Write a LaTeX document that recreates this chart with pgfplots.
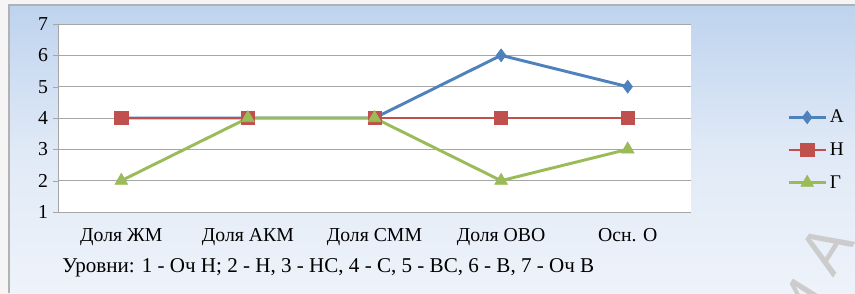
\documentclass[border=0pt]{standalone}
\usepackage{pgfplots}
\pgfplotsset{compat=1.18}
\usepackage{fontspec}
\setmainfont{Liberation Serif}
\setsansfont{Liberation Sans}
\definecolor{bgtop}{HTML}{BDD2EE}
\definecolor{bgbot}{HTML}{EEF3FA}
\definecolor{serA}{HTML}{4F81BD}
\definecolor{serH}{HTML}{C0504D}
\definecolor{serG}{HTML}{9BBB59}
\begin{document}
\begin{tikzpicture}[x=0.75pt,y=0.75pt]
\begin{scope}
\clip (0,0) rectangle (855,293);
\shade[top color=bgtop, bottom color=bgbot, middle color=bgbot!70!bgtop] (0,0) rectangle (855,293);
\fill[white!92!gray] (0,288) rectangle (855,293);
\fill[white!92!gray] (0,0) rectangle (9,293);
\draw[gray!60, line width=0.8pt] (9,0) -- (9,288) -- (855,288);
\node[rotate=58, text=gray!40, font=\fontsize{48}{48}\selectfont\sffamily, anchor=center] at (812,22) {и А};
\end{scope}
\begin{axis}[
  at={(43.5pt,60.75pt)}, anchor=south west,
  width=474.75pt, height=141pt, scale only axis,
  xmin=-0.5, xmax=4.5, ymin=1, ymax=7,
  xtick={0,1,2,3,4},
  xticklabels={Доля ЖМ, Доля АКМ, Доля СММ, Доля ОВО, Осн. О},
  ytick={1,2,3,4,5,6,7},
  ymajorgrids, grid style={gray!70, line width=0.6pt},
  axis x line*=bottom, axis y line*=left,
  axis line style={gray!70, line width=0.6pt},
  x axis line style={-}, y axis line style={-},
  major x tick style={draw=none},
  major y tick style={gray!70}, tick align=outside, major tick length=4pt,
  axis background/.style={fill=white},
  tick label style={font=\fontsize{14.8}{17}\selectfont},
  /pgf/number format/assume math mode=true,
  xticklabel style={yshift=-5pt},
  xlabel={Уровни: 1 - Оч Н; 2 - Н, 3 - НС, 4 - С, 5 - ВС, 6 - В, 7 - Оч В},
  xlabel style={at={(axis description cs:0.427,-0.298)}, anchor=center, font=\fontsize{15.8}{18}\selectfont},
  legend style={at={(1.145,0.33)}, anchor=west, draw=none, fill=none, font=\fontsize{14.5}{17}\selectfont, row sep=9.5pt},
  legend cell align=left,
  legend image code/.code={\draw[mark repeat=2,mark phase=2] plot coordinates {(0pt,0pt) (14pt,0pt) (28pt,0pt)};},
]
\addplot[serA, line width=2.2pt, mark=diamond*, mark size=4.8pt, mark options={solid, line width=0.5pt}] coordinates {(0,4) (1,4) (2,4) (3,6) (4,5)};
\addlegendentry{А}
\addplot[serH, line width=2.2pt, mark=square*, mark size=5pt, mark options={solid, line width=0.5pt}] coordinates {(0,4) (1,4) (2,4) (3,4) (4,4)};
\addlegendentry{Н}
\addplot[serG, line width=2.2pt, mark=triangle*, mark size=5.5pt, mark options={solid, line width=0.5pt}] coordinates {(0,2) (1,4) (2,4) (3,2) (4,3)};
\addlegendentry{Г}
\end{axis}
\end{tikzpicture}
\end{document}
